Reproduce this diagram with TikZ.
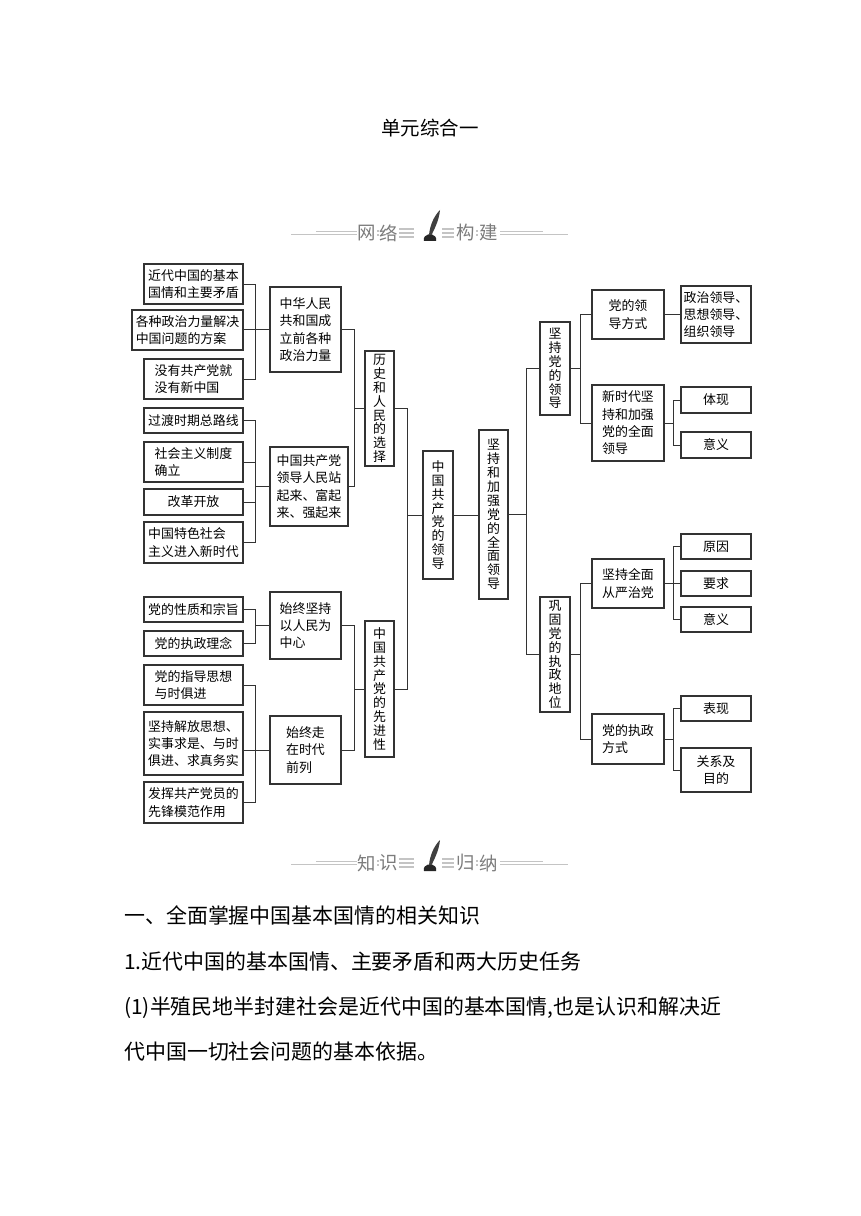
\documentclass[tikz,border=0pt]{standalone}
\usepackage{fontspec}
\newfontfamily\cjk{Noto Sans CJK SC}
\definecolor{bdr}{HTML}{333333}
\definecolor{bantext}{HTML}{7C7C7C}
\definecolor{banline}{HTML}{C4C4C4}
\tikzset{
  bx/.style={draw=bdr, line width=0.9pt, inner sep=0pt, align=left, fill=white,
    font={\cjk\fontsize{9.7}{13}\selectfont}},
  bxc/.style={bx, align=center},
  vbx/.style={bx, align=center, font={\cjk\fontsize{9.7}{10.4}\selectfont}},
  ln/.style={draw=bdr, line width=0.75pt},
  bline/.style={draw=banline, line width=1.1pt},
  btext/.style={text=bantext, font={\cjk\fontsize{13.8}{14}\selectfont}, inner sep=0pt},
  body/.style={anchor=west, inner sep=0pt, font={\cjk\fontsize{15.7}{16}\selectfont}}
}
\newcommand\pbox[7][bx]{\node[#1, minimum width={(#5-#3)*0.75pt}, minimum height={(#6-#4)*0.75pt}] (#2) at ({(#3+#5)/2},{(#4+#6)/2}) {#7};}
\newcommand\banner[6]{%
  \draw[bline] (291,#2+1.6) -- (357,#2+1.6);
  \draw[bline] (316,#2-1.6) -- (357,#2-1.6);
  \draw[bline] (500,#2+1.6) -- (568,#2+1.6);
  \draw[bline] (500,#2-1.6) -- (543,#2-1.6);
  \draw[bline, line width=0.8pt] (399,#2-4) -- (414,#2-4) (399,#2) -- (414,#2) (399,#2+4) -- (414,#2+4);
  \draw[bline, line width=0.8pt] (442,#2-4) -- (454,#2-4) (442,#2) -- (454,#2) (442,#2+4) -- (454,#2+4);
  \draw[bline, line width=0.8pt] (377,#2-2) -- (379,#2-2) (377,#2+2) -- (379,#2+2);
  \draw[bline, line width=0.8pt] (476,#2-2) -- (478,#2-2) (476,#2+2) -- (478,#2+2);
  \node[btext] (#1a) at (367,#2) {#3};
  \node[btext] (#1b) at (389,#2) {#4};
  \node[btext] (#1c) at (466,#2) {#5};
  \node[btext] (#1d) at (489,#2) {#6};
  \fill[black!85] (424,#2+8) .. controls (423,#2+4) and (426,#2+2) .. (428,#2+1.5) -- (432,#2+1.5) .. controls (434,#2+2) and (437,#2+4) .. (436,#2+8) -- cycle;
  \fill[black!75] (429,#2+2) .. controls (430,#2-8) and (434,#2-17) .. (440,#2-23) .. controls (439,#2-13) and (435,#2-5) .. (431.5,#2+2) -- cycle;
}
\begin{document}
\begin{tikzpicture}[x=0.75pt, y=-0.75pt]
\useasboundingbox (0,0) rectangle (860,1216);
\fill[white] (0,0) rectangle (860,1216);

\node[inner sep=0pt, font={\cjk\fontsize{14.6}{15}\selectfont}] (title) at (430,128) {单元综合一};

\banner{bn1}{233}{网}{络}{构}{建}
\banner{bn2}{863}{知}{识}{归}{纳}

% left column
\pbox{A1}{144}{264}{243}{304}{近代中国的基本\\国情和主要矛盾}
\pbox{A2}{132}{310}{243}{350}{各种政治力量解决\\中国问题的方案}
\pbox{A3}{144}{359}{243}{399}{没有共产党就\\没有新中国}
\pbox{A4}{144}{408}{243}{433}{过渡时期总路线}
\pbox{A5}{144}{442}{243}{482}{社会主义制度\\确立}
\pbox{A6}{144}{489}{243}{515}{改革开放}
\pbox{A7}{144}{522}{243}{563}{中国特色社会\\主义进入新时代}
\pbox{A8}{144}{597}{243}{622}{党的性质和宗旨}
\pbox{A9}{144}{631}{243}{656}{党的执政理念}
\pbox{A10}{144}{665}{243}{705}{党的指导思想\\与时俱进}
\pbox{A11}{144}{712}{243}{775}{坚持解放思想、\\实事求是、与时\\俱进、求真务实}
\pbox{A12}{144}{782}{243}{823}{发挥共产党员的\\先锋模范作用}

% second column
\pbox{B1}{270}{287}{341}{372}{中华人民\\共和国成\\立前各种\\政治力量}
\pbox{B2}{270}{447}{348}{526}{中国共产党\\领导人民站\\起来、富起\\来、强起来}
\pbox{B3}{270}{592}{341}{659}{始终坚持\\以人民为\\中心}
\pbox{B4}{270}{716}{341}{784}{始终走\\在时代\\前列}

% third column
\pbox[vbx]{C1}{365}{351}{394}{466}{历\\史\\和\\人\\民\\的\\选\\择}
\pbox[vbx]{C2}{365}{621}{394}{757}{中\\国\\共\\产\\党\\的\\先\\进\\性}

% centre
\pbox[vbx]{D1}{423}{451}{453}{579}{中\\国\\共\\产\\党\\的\\领\\导}
\pbox[vbx]{D2}{479}{430}{508}{599}{坚\\持\\和\\加\\强\\党\\的\\全\\面\\领\\导}

% right
\pbox[vbx]{E1}{540}{322}{570}{415}{坚\\持\\党\\的\\领\\导}
\pbox[vbx]{E2}{540}{597}{570}{712}{巩\\固\\党\\的\\执\\政\\地\\位}
\pbox{F1}{592}{290}{664}{339}{党的领\\导方式}
\pbox{F2}{592}{385}{664}{461}{新时代坚\\持和加强\\党的全面\\领导}
\pbox{F3}{592}{559}{664}{608}{坚持全面\\从严治党}
\pbox{F4}{592}{714}{664}{764}{党的执政\\方式}
\pbox{G1}{681}{286}{751}{343}{政治领导、\\思想领导、\\组织领导}
\pbox[bxc]{G2}{681}{387}{751}{413}{体现}
\pbox[bxc]{G3}{681}{432}{751}{458}{意义}
\pbox[bxc]{G4}{681}{534}{751}{559}{原因}
\pbox[bxc]{G5}{681}{571}{751}{596}{要求}
\pbox[bxc]{G6}{681}{607}{751}{632}{意义}
\pbox[bxc]{G7}{681}{696}{751}{721}{表现}
\pbox[bxc]{G8}{681}{748}{751}{792}{关系及\\目的}

% bus coordinates
\coordinate (b1) at (255.7,0);
\coordinate (b2) at (354,0);
\coordinate (b3) at (407.7,0);
\coordinate (b4) at (526,0);
\coordinate (b5) at (580,0);
\coordinate (b6) at (673.3,0);

% left connectors
\draw[ln] (A1.east) -- (A1.east -| b1) -- (A3.east -| b1) -- (A3.east);
\draw[ln] (A2.east |- B1.west) -- (B1.west);
\draw[ln] (A4.east) -- (A4.east -| b1) -- (A7.east -| b1) -- (A7.east);
\draw[ln] (A5.east) -- (A5.east -| b1);
\draw[ln] (A6.east) -- (A6.east -| b1);
\draw[ln] (B2.west -| b1) -- (B2.west);
\draw[ln] (A8.east) -- (A8.east -| b1) -- (A9.east -| b1) -- (A9.east);
\draw[ln] (B3.west -| b1) -- (B3.west);
\draw[ln] (A10.east) -- (A10.east -| b1) -- (A12.east -| b1) -- (A12.east);
\draw[ln] (A11.east |- B4.west) -- (B4.west);

\draw[ln] (B1.east) -- (B1.east -| b2) -- (B2.east -| b2) -- (B2.east);
\draw[ln] (C1.west -| b2) -- (C1.west);
\draw[ln] (B3.east) -- (B3.east -| b2) -- (B4.east -| b2) -- (B4.east);
\draw[ln] (C2.west -| b2) -- (C2.west);

\draw[ln] (C1.east) -- (C1.east -| b3) -- (C2.east -| b3) -- (C2.east);
\draw[ln] (D1.west -| b3) -- (D1.west);
\draw[ln] (D1.east) -- (D1.east -| D2.west);

% right connectors
\draw[ln] (E1.west) -- (E1.west -| b4) -- (E2.west -| b4) -- (E2.west);
\draw[ln] (D2.east) -- (D2.east -| b4);
\draw[ln] (F1.west) -- (F1.west -| b5) -- (F2.west -| b5) -- (F2.west);
\draw[ln] (E1.east) -- (E1.east -| b5);
\draw[ln] (F3.west) -- (F3.west -| b5) -- (F4.west -| b5) -- (F4.west);
\draw[ln] (E2.east) -- (E2.east -| b5);
\draw[ln] (F1.east) -- (F1.east -| G1.west);
\draw[ln] (G2.west) -- (G2.west -| b6) -- (G3.west -| b6) -- (G3.west);
\draw[ln] (F2.east) -- (F2.east -| b6);
\draw[ln] (G4.west) -- (G4.west -| b6) -- (G6.west -| b6) -- (G6.west);
\draw[ln] (F3.east) -- (F3.east -| G5.west);
\draw[ln] (G7.west) -- (G7.west -| b6) -- (G8.west -| b6) -- (G8.west);
\draw[ln] (F4.east) -- (F4.east -| b6);

% body text
\node[body] (t1) at (124,915) {一、全面掌握中国基本国情的相关知识};
\node[body] (t2) at (124,962) {1.近代中国的基本国情、主要矛盾和两大历史任务};
\node[body] (t3) at (124,1008) {(1)半殖民地半封建社会是近代中国的基本国情,也是认识和解决近};
\node[body] (t4) at (124,1052) {代中国一切社会问题的基本依据。};
\end{tikzpicture}
\end{document}
